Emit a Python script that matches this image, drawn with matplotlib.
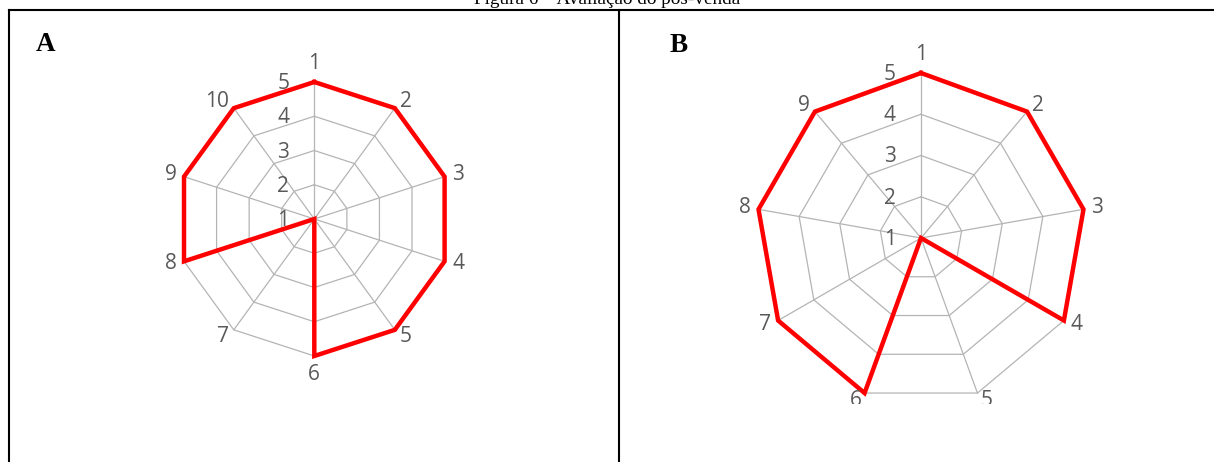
import numpy as np
import matplotlib.pyplot as plt
from matplotlib.lines import Line2D
from matplotlib.transforms import Bbox, TransformedBbox

# Values (scale goes from 1 to 5).
categories_a = ["1", "2", "3", "4", "5", "6", "7", "8", "9", "10"]
values_a = [5, 5, 5, 5, 5, 5, 1, 5, 5, 5]

categories_b = ["1", "2", "3", "4", "5", "6", "7", "8", "9"]
values_b = [5, 5, 5, 5, 1, 5, 5, 5, 5]

ring_values = [1, 2, 3, 4, 5]

title_text = "Figura 6 – Avaliação do pós-venda"

# Figure size in pixels.
width_px = 1214
height_px = 462

grid_color = "#b4b4b4"
label_color = "#595959"
label_font = "Open Sans"
label_size = 15


# Place a polar axes from a centre and radius given in pixels (from the top left).
def polar_axes(fig, cx, cy, radius):
    left = (cx - radius)/width_px
    bottom = (height_px - cy - radius)/height_px
    ax = fig.add_axes([left, bottom, 2*radius/width_px, 2*radius/height_px], projection="polar")
    ax.set_theta_zero_location("N")
    ax.set_theta_direction(-1)
    ax.set_ylim(ring_values[0], ring_values[-1])
    ax.set_axis_off()
    return ax


# Draw one Excel style radar chart: polygon grid, spokes, labels and the red series.
def draw_radar(ax, categories, values):
    n = len(categories)
    theta = np.arange(n)*2*np.pi/n
    theta_closed = np.append(theta, theta[0])
    artists = []

    # Polygon rings.
    for r in ring_values[1:]:
        line, = ax.plot(theta_closed, [r]*(n + 1), color=grid_color, lw=0.9, clip_on=False, zorder=1)
        artists.append(line)

    # Spokes from centre to outer ring.
    for t in theta:
        line, = ax.plot([t, t], [ring_values[0], ring_values[-1]], color=grid_color, lw=0.9, clip_on=False, zorder=1)
        artists.append(line)

    # The data series.
    values_closed = np.append(values, values[0])
    line, = ax.plot(theta_closed, values_closed, color="#ff0000", lw=3.2, clip_on=False,
                    solid_joinstyle="miter", zorder=3)
    artists.append(line)

    # Category labels outside each vertex.
    gap = 8
    for t, label in zip(theta, categories):
        s, c = np.sin(t), np.cos(t)
        if s > 0.05:
            ha = "left"
        elif s < -0.05:
            ha = "right"
        else:
            ha = "center"
        if abs(s) <= 0.05:
            va = "bottom" if c > 0 else "top"
        else:
            va = "center"
        txt = ax.annotate(label, (t, ring_values[-1]), xytext=(gap*s, gap*c), textcoords="offset pixels",
                          ha=ha, va=va, fontsize=label_size, color=label_color, family=label_font,
                          annotation_clip=False)
        artists.append(txt)

    # Ring value labels to the left of the top spoke.
    for r in ring_values:
        txt = ax.annotate(str(r), (0, r), xytext=(-31, -1.5), textcoords="offset pixels",
                          ha="center", va="center", fontsize=label_size, color=label_color, family=label_font,
                          annotation_clip=False)
        artists.append(txt)

    return artists


# Cut the artists off below a given pixel row, like the cropped picture in panel B.
def clip_below(fig, artists, y_px):
    box = TransformedBbox(Bbox([[0, (height_px - y_px)/height_px], [1, 1]]), fig.transFigure)
    for a in artists:
        a.set_clip_path(None)
        a.set_clip_box(box)
        a.set_clip_on(True)


# Draw the table frame that surrounds the two panels.
def draw_frame(fig):
    def px_line(x0, y0, x1, y1):
        fig.add_artist(Line2D([x0/width_px, x1/width_px], [1 - y0/height_px, 1 - y1/height_px],
                              color="black", lw=1.5, solid_capstyle="projecting"))

    px_line(9, 10, width_px, 10)
    px_line(9, 10, 9, height_px)
    px_line(619, 10, 619, height_px)


def main():
    fig = plt.figure(figsize=(width_px/100, height_px/100), dpi=100)

    # Caption, mostly cut off at the top of the picture.
    fig.text(0.5, 1 - 4/height_px, title_text, ha="center", va="baseline",
             family="Liberation Serif", fontsize=13.8)

    draw_frame(fig)

    # Panel letters.
    fig.text(36/width_px, 1 - 51/height_px, "A", family="Liberation Serif", fontweight="bold", fontsize=19.5)
    fig.text(670/width_px, 1 - 52/height_px, "B", family="Liberation Serif", fontweight="bold", fontsize=19.5)

    ax_a = polar_axes(fig, 314.3, 219, 137)
    draw_radar(ax_a, categories_a, values_a)

    ax_b = polar_axes(fig, 921, 238, 165)
    artists_b = draw_radar(ax_b, categories_b, values_b)
    clip_below(fig, artists_b, 404)

    fig.savefig("out.png", dpi=100)
    plt.close(fig)


if __name__ == "__main__":
    main()
